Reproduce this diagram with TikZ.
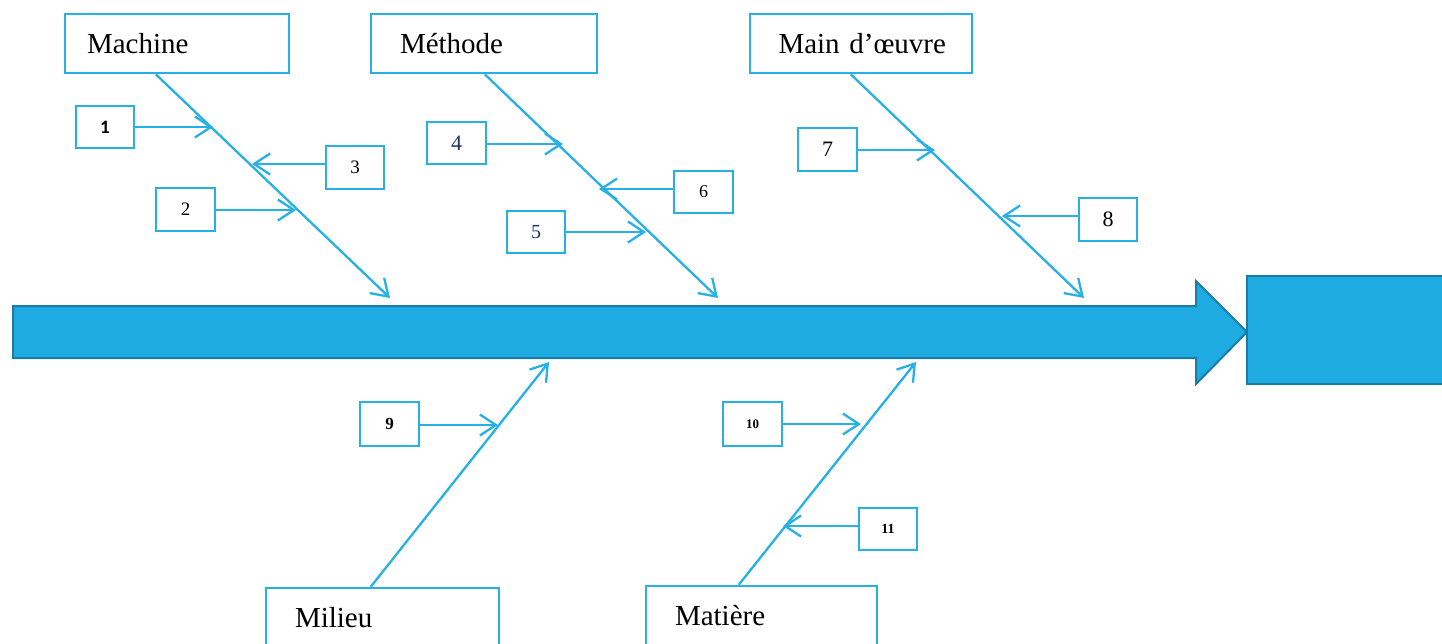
\documentclass[tikz,border=0pt]{standalone}
\usepackage{fontspec}
\setmainfont{Liberation Serif}
\newfontfamily\calfont{Carlito}
\usetikzlibrary{arrows.meta}
\definecolor{fishline}{RGB}{38,176,229}
\definecolor{spinefill}{RGB}{30,171,226}
\definecolor{spinedraw}{RGB}{24,124,164}
\definecolor{navytext}{RGB}{31,50,99}

\begin{document}
\begin{tikzpicture}[x=1pt,y=-1pt,
  catbox/.style={draw=fishline, line width=2.5pt, minimum height=59pt,
    inner ysep=0pt, align=left, font=\fontsize{29}{34}\selectfont},
  numbox/.style={draw=fishline, line width=2.5pt, minimum width=58pt,
    minimum height=42pt, inner sep=0pt, font=\fontsize{19}{22}\selectfont},
  bone/.style={draw=fishline, line width=2.3pt,
    -{Straight Barb[length=16pt,width=21pt]}},
  twig/.style={bone}
]
\path[use as bounding box] (0,0) rectangle (1442,643);
\clip (0,0) rectangle (1442,643);

% main spine and effect box
\draw[draw=spinedraw, fill=spinefill, line width=2pt, line join=miter]
  (13,306) -- (1196,306) -- (1196,281) -- (1247,332) -- (1196,384)
  -- (1196,358) -- (13,358) -- cycle;
\node[draw=spinedraw, fill=spinefill, line width=2pt, anchor=north west,
  minimum width=230pt, minimum height=108pt, inner sep=0pt] (effet) at (1246,275) {};

% cause categories
\node[catbox, text width=180pt, inner xsep=22pt] (mach) at (177,43.5) {Machine};
\node[catbox, text width=168pt, inner xsep=29pt] (meth) at (484,43.5) {Méthode};
\node[catbox, text width=165pt, inner xsep=28.5pt] (mo) at (861,43.5) {Main~d’œuvre};
\node[catbox, text width=175pt, inner xsep=29pt] (mil) at (382.5,617.5) {Milieu};
\node[catbox, text width=173pt, inner xsep=29pt] (mat) at (761.5,615.5) {Matière};

% bone tips on the spine
\coordinate (machtip) at (390,298);
\coordinate (methtip) at (718,298);
\coordinate (motip) at (1084,298);
\coordinate (miltip) at (549,362);
\coordinate (mattip) at (916,362);

\draw[bone] ([xshift=92pt]mach.south west) -- (machtip);
\draw[bone] ([xshift=115pt]meth.south west) -- (methtip);
\draw[bone] ([xshift=102pt]mo.south west) -- (motip);
\draw[bone] ([xshift=106pt]mil.north west) -- (miltip);
\draw[bone] ([xshift=94pt]mat.north west) -- (mattip);

% numbered sub-causes
\node[numbox, font=\calfont\bfseries\fontsize{19}{21}\selectfont] (n1) at (105,127) {1};
\node[numbox, minimum height=43pt] (n3) at (355,167.5) {3};
\node[numbox, minimum height=43pt, minimum width=59pt] (n2) at (185.5,209.5) {2};
\node[numbox, minimum width=59pt, text=navytext, font=\fontsize{22}{24}\selectfont] (n4) at (456.5,143) {4};
\node[numbox, minimum width=59pt, font=\fontsize{18}{20}\selectfont] (n6) at (703.5,192) {6};
\node[numbox, text=navytext, font=\fontsize{20}{22}\selectfont] (n5) at (536,232) {5};
\node[numbox, minimum height=43pt, minimum width=59pt, font=\fontsize{22}{24}\selectfont] (n7) at (827.5,149.5) {7};
\node[numbox, minimum height=43pt, font=\fontsize{22}{24}\selectfont] (n8) at (1108,219.5) {8};
\node[numbox, minimum height=44pt, minimum width=59pt, font=\bfseries\fontsize{17}{19}\selectfont] (n9) at (389.5,424) {9};
\node[numbox, minimum height=44pt, minimum width=59pt, font=\bfseries\fontsize{13}{15}\selectfont] (n10) at (752.5,424) {10};
\node[numbox, font=\bfseries\fontsize{14}{16}\selectfont] (n11) at (888,529) {11};

% where the sub-cause arrows meet their bones
\coordinate (t1) at (213,127);
\coordinate (t3) at (252,164);
\coordinate (t2) at (296,210);
\coordinate (t4) at (563,144);
\coordinate (t6) at (599,189);
\coordinate (t5) at (646,232);
\coordinate (t7) at (935,150);
\coordinate (t8) at (1002,216);
\coordinate (t9) at (498,425);
\coordinate (t10) at (861,424);
\coordinate (t11) at (783,526);

\draw[twig] (t1 -| n1.east) -- (t1);
\draw[twig] (t3 -| n3.west) -- (t3);
\draw[twig] (t2 -| n2.east) -- (t2);
\draw[twig] (t4 -| n4.east) -- (t4);
\draw[twig] (t6 -| n6.west) -- (t6);
\draw[twig] (t5 -| n5.east) -- (t5);
\draw[twig] (t7 -| n7.east) -- (t7);
\draw[twig] (t8 -| n8.west) -- (t8);
\draw[twig] (t9 -| n9.east) -- (t9);
\draw[twig] (t10 -| n10.east) -- (t10);
\draw[twig] (t11 -| n11.west) -- (t11);
\end{tikzpicture}
\end{document}
